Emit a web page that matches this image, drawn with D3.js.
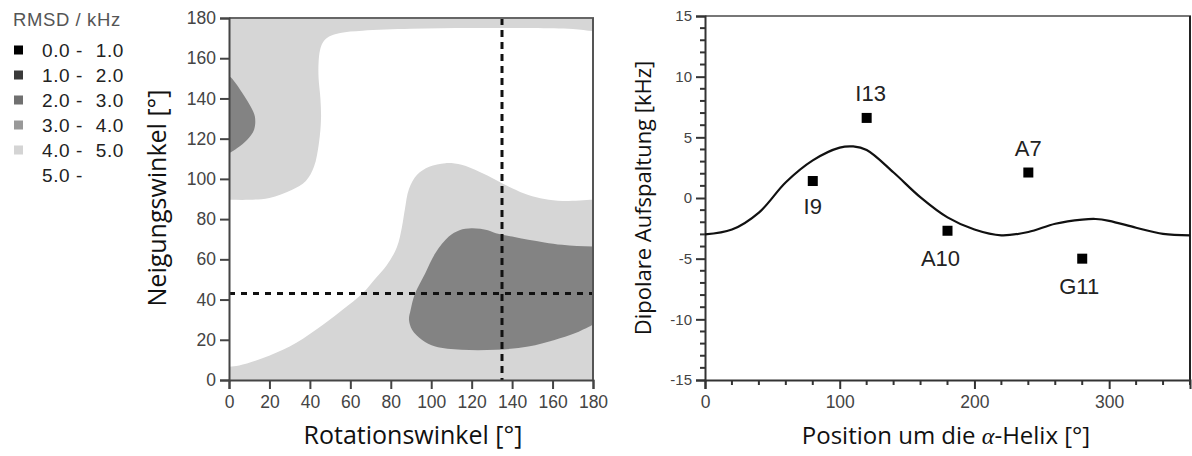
<!DOCTYPE html>
<html>
<head>
<meta charset="utf-8">
<script src="https://cdn.jsdelivr.net/npm/d3@7"></script>
<style>
  body { margin: 0; background: #fff; }
  svg { display: block; }
  .tick-label { font-family: "Liberation Sans", Arial, sans-serif; fill: #444; }
  .title { font-family: "Open Sans", "Noto Sans", sans-serif; fill: #111; }
</style>
</head>
<body>
<svg id="fig" width="1192" height="456"></svg>
<script>
// ---------- RMSD map (left panel) ----------
const rmsdBandStart = ["0.0 -", "1.0 -", "2.0 -", "3.0 -", "4.0 -", "5.0 -"];
const rmsdBandEnd   = ["1.0", "2.0", "3.0", "4.0", "5.0", ""];

// Contour outlines as [rotation angle °, tilt angle °]
const zoneAbove5 = [
  [44.3, 158], [45, 164], [46.5, 168], [49.5, 170.8], [55, 172.6], [66, 173.7], [90, 174.6],
  [120, 175], [150, 175], [170, 174.5], [180, 173.5], [188, 173.5],
  [188, 89.5], [180, 89.6], [165, 89], [156, 90], [148, 92], [140, 95.4],
  [132, 99.5], [123.5, 103.7], [115, 107], [107, 107.8], [99, 106], [93, 102],
  [89, 95], [87, 85], [85.5, 76], [83, 66], [78, 57], [72, 50], [66, 43],
  [56, 34.8], [43, 25], [30, 16.6], [16.5, 10.8], [5, 7.2], [0, 6.6], [-8, 6.5],
  [-8, 89.6], [0, 89.6], [10, 89.6], [20, 90.5], [31, 94.5], [38, 99],
  [42, 106], [44.5, 118], [45.5, 130], [45.2, 140], [44.3, 150]
];
const zone2to3Upper = [
  [-8, 152], [0, 151], [3.3, 147.6], [6.6, 142.7], [10.7, 136], [12.8, 131],
  [12.4, 124.4], [9, 119.4], [4.1, 115.3], [0, 112.8], [-8, 112]
];
const zone2to3Lower = [
  [120, 75.5], [128, 74.5], [132, 73], [140, 71.3], [148, 69.7], [156, 68.4],
  [164.7, 67.2], [172, 66.6], [180, 66.4], [188, 66.4], [188, 27], [180, 27.4],
  [178, 26.5], [171, 23.2], [161, 19.9], [148, 16.6], [132, 15], [115, 15],
  [102, 16.6], [95.5, 19.9], [90.6, 24.9], [89, 29.9], [89.8, 34.8], [92, 43],
  [97, 53], [102, 63], [108.7, 71.3], [114, 74.5]
];
const bestRotation = 135;
const bestTilt = 43;
const rotationTicks = [0, 20, 40, 60, 80, 100, 120, 140, 160, 180];
const tiltTicks = [0, 20, 40, 60, 80, 100, 120, 140, 160, 180];

// ---------- Dipolar wave (right panel) ----------
const wavePosition = [0, 20, 40, 60, 80, 100, 110, 120, 140, 160, 180, 200, 220,
  240, 260, 280, 290, 300, 320, 340, 360];
const waveSplitting = [-3.0, -2.6, -1.2, 1.3, 3.1, 4.15, 4.25, 3.95, 2.1, 0.05, -1.6,
  -2.6, -3.08, -2.8, -2.12, -1.78, -1.73, -1.88, -2.45, -2.95, -3.08];
const residueNames = ["I9", "I13", "A10", "A7", "G11"];
const residuePosition = [80, 120, 180, 240, 280];
const residueSplitting = [1.4, 6.6, -2.7, 2.1, -5.0];
const positionTicks = [0, 100, 200, 300];
const splittingTicks = [-15, -10, -5, 0, 5, 10, 15];

// ---------- drawing ----------
const svg = d3.select("#fig");
const plainInt = d => String(d);

// colours of the RMSD bands
const bandColors = ["#000000", "#3a3a3a", "#707070", "#999999", "#d4d4d4", "#ffffff"];
const mapLight = "#d6d6d6";
const mapDark = "#838383";

// Legend
const legend = svg.append("g").attr("font-family", "Liberation Sans, Arial, sans-serif");
legend.append("text").attr("x", 13).attr("y", 26).attr("font-size", 18.5)
  .attr("letter-spacing", 0.6).attr("fill", "#555").text("RMSD / kHz");
rmsdBandStart.forEach((s, i) => {
  const cy = 50 + i * 25;
  if (i < 5) {
    legend.append("rect").attr("x", 14).attr("y", cy - 4.5).attr("width", 9).attr("height", 9)
      .attr("fill", bandColors[i]);
  }
  legend.append("text").attr("x", 42).attr("y", cy + 6.5).attr("font-size", 19)
    .attr("letter-spacing", 0.6).attr("fill", "#222").text(s);
  legend.append("text").attr("x", 124).attr("y", cy + 6.5).attr("font-size", 19)
    .attr("letter-spacing", 0.6).attr("text-anchor", "end").attr("fill", "#222").text(rmsdBandEnd[i]);
});

// Left panel
const L = { x0: 229, x1: 593, y0: 380, y1: 18 };
const rx = d3.scaleLinear().domain([0, 180]).range([L.x0, L.x1]);
const ry = d3.scaleLinear().domain([0, 180]).range([L.y0, L.y1]);

svg.append("clipPath").attr("id", "mapClip").append("rect")
  .attr("x", L.x0).attr("y", L.y1).attr("width", L.x1 - L.x0).attr("height", L.y0 - L.y1);

const map = svg.append("g").attr("clip-path", "url(#mapClip)");
map.append("rect").attr("x", L.x0).attr("y", L.y1).attr("width", L.x1 - L.x0)
  .attr("height", L.y0 - L.y1).attr("fill", mapLight);
const outline = d3.line().x(d => rx(d[0])).y(d => ry(d[1])).curve(d3.curveCatmullRomClosed.alpha(0.5));
map.append("path").attr("d", outline(zoneAbove5)).attr("fill", "#ffffff");
map.append("path").attr("d", outline(zone2to3Upper)).attr("fill", mapDark);
map.append("path").attr("d", outline(zone2to3Lower)).attr("fill", mapDark);

// best-fit crosshair
map.append("line").attr("x1", rx(0)).attr("x2", rx(180)).attr("y1", ry(bestTilt)).attr("y2", ry(bestTilt))
  .attr("stroke", "#111").attr("stroke-width", 3).attr("stroke-dasharray", "6,6");
map.append("line").attr("x1", rx(bestRotation)).attr("x2", rx(bestRotation)).attr("y1", ry(180)).attr("y2", ry(0))
  .attr("stroke", "#111").attr("stroke-width", 3).attr("stroke-dasharray", "7,5");

// frame
svg.append("line").attr("x1", L.x0).attr("x2", L.x1 + 1).attr("y1", L.y1).attr("y2", L.y1)
  .attr("stroke", "#666").attr("stroke-width", 2);
svg.append("line").attr("x1", L.x1).attr("x2", L.x1).attr("y1", L.y1).attr("y2", L.y0)
  .attr("stroke", "#555").attr("stroke-width", 2);

const lxAxis = svg.append("g").attr("transform", `translate(0,${L.y0})`)
  .call(d3.axisBottom(rx).tickValues(rotationTicks).tickSize(9).tickPadding(7).tickFormat(plainInt));
const lyAxis = svg.append("g").attr("transform", `translate(${L.x0},0)`)
  .call(d3.axisLeft(ry).tickValues(tiltTicks).tickSize(9).tickPadding(4).tickFormat(plainInt));
[lxAxis, lyAxis].forEach(g => {
  g.select(".domain").attr("stroke", "#444").attr("stroke-width", 2);
  g.selectAll(".tick line").attr("stroke", "#444").attr("stroke-width", 2);
  g.selectAll(".tick text").attr("class", "tick-label").attr("font-size", 17.5).attr("fill", "#444");
});

svg.append("text").attr("class", "title").attr("x", (L.x0 + L.x1) / 2 + 2).attr("y", 444)
  .attr("text-anchor", "middle").attr("font-size", 25).text("Rotationswinkel [°]");
svg.append("text").attr("class", "title").attr("transform", `translate(166,198) rotate(-90)`)
  .attr("text-anchor", "middle").attr("font-size", 25).text("Neigungswinkel [°]");

// Right panel
const R = { x0: 705, x1: 1190, y0: 380, y1: 16 };
const px = d3.scaleLinear().domain([0, 360]).range([R.x0, R.x1]);
const py = d3.scaleLinear().domain([-15, 15]).range([R.y0, R.y1]);

svg.append("line").attr("x1", R.x0).attr("x2", R.x1 + 1).attr("y1", R.y1).attr("y2", R.y1)
  .attr("stroke", "#777").attr("stroke-width", 2);
svg.append("line").attr("x1", R.x1).attr("x2", R.x1).attr("y1", R.y1).attr("y2", R.y0)
  .attr("stroke", "#222").attr("stroke-width", 2);

// minor ticks
const minorX = d3.range(0, 361, 20).filter(v => v % 100 !== 0);
const minorY = d3.range(-15, 16, 1).filter(v => v % 5 !== 0);
svg.append("g").selectAll("line").data(minorX).join("line")
  .attr("x1", d => px(d)).attr("x2", d => px(d)).attr("y1", R.y0).attr("y2", R.y0 + 5)
  .attr("stroke", "#333").attr("stroke-width", 2);
svg.append("g").selectAll("line").data(minorY).join("line")
  .attr("x1", R.x0 - 5).attr("x2", R.x0).attr("y1", d => py(d)).attr("y2", d => py(d))
  .attr("stroke", "#333").attr("stroke-width", 2);

const pxAxis = svg.append("g").attr("transform", `translate(0,${R.y0})`)
  .call(d3.axisBottom(px).tickValues(positionTicks).tickSize(9).tickPadding(7).tickFormat(plainInt));
const pyAxis = svg.append("g").attr("transform", `translate(${R.x0},0)`)
  .call(d3.axisLeft(py).tickValues(splittingTicks).tickSize(9).tickPadding(4).tickFormat(plainInt));
[pxAxis, pyAxis].forEach(g => {
  g.select(".domain").attr("stroke", "#333").attr("stroke-width", 2);
  g.selectAll(".tick line").attr("stroke", "#333").attr("stroke-width", 2);
  g.selectAll(".tick text").attr("class", "tick-label").attr("font-size", 17.5).attr("fill", "#444");
});
pyAxis.selectAll(".tick text").attr("font-size", 15);

const wave = d3.line().x((d, i) => px(wavePosition[i])).y(d => py(d)).curve(d3.curveCatmullRom.alpha(0.5));
svg.append("path").attr("d", wave(waveSplitting)).attr("fill", "none")
  .attr("stroke", "#111").attr("stroke-width", 2.2);

const labelOffset = [[0, 33], [4, -17], [-7, 35], [0, -17], [-3, 35]];
const pts = svg.append("g");
residueNames.forEach((name, i) => {
  const x = px(residuePosition[i]), y = py(residueSplitting[i]);
  pts.append("rect").attr("x", x - 5).attr("y", y - 5).attr("width", 10).attr("height", 10).attr("fill", "#000");
  pts.append("text").attr("x", x + labelOffset[i][0]).attr("y", y + labelOffset[i][1])
    .attr("text-anchor", "middle").attr("font-family", "Liberation Sans, Arial, sans-serif")
    .attr("font-size", 22).attr("fill", "#222").text(name);
});

svg.append("text").attr("class", "title").attr("x", 946).attr("y", 444)
  .attr("text-anchor", "middle").attr("font-size", 24)
  .call(t => {
    t.append("tspan").text("Position um die ");
    t.append("tspan").attr("font-family", "Liberation Serif, serif").attr("font-style", "italic").text("α");
    t.append("tspan").text("-Helix [°]");
  });
svg.append("text").attr("class", "title").attr("transform", `translate(651,198) rotate(-90)`)
  .attr("text-anchor", "middle").attr("font-size", 22).text("Dipolare Aufspaltung [kHz]");
</script>
</body>
</html>
